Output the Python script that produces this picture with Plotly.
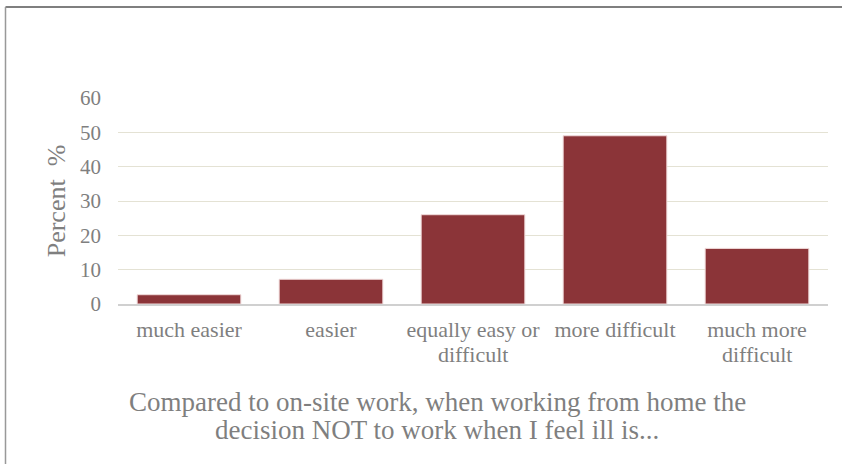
import plotly.graph_objects as go

categories = ["much easier", "easier", "equally easy or|difficult", "more difficult", "much more|difficult"]
values = [2.7, 7.2, 26.0, 49.0, 16.2]
y_ticks = [0, 10, 20, 30, 40, 50, 60]

W, H = 842, 464
L, R, T, B = 118, 14, 98, 160
pw, ph = W - L - R, H - T - B

def px(x):
    return (x - L) / pw

def py(y):
    return (H - B - y) / ph

font_family = "Liberation Serif"
gray = "#7f7f7f"

first_lines = [c.split("|")[0] for c in categories]
second_lines = [c.split("|")[1] if "|" in c else "" for c in categories]

fig = go.Figure(go.Bar(
    x=categories, y=values,
    marker=dict(color="#8b3438", line=dict(color="#f0dada", width=1)),
))

annotations = []
for cat, sec in zip(categories, second_lines):
    if sec:
        annotations.append(dict(
            text=sec, x=cat, xref="x", y=py(354), yref="paper", showarrow=False,
            xanchor="center", yanchor="middle",
            font=dict(size=22, color=gray, family=font_family),
        ))

title_lines = ["Compared to on-site work, when working from home the",
               "decision NOT to work when I feel ill is..."]
for line, ypix in zip(title_lines, [402, 430]):
    annotations.append(dict(
        text=line, x=px(437), y=py(ypix), xref="paper", yref="paper", showarrow=False,
        xanchor="center", yanchor="middle",
        font=dict(size=27, color=gray, family=font_family),
    ))

fig.update_layout(
    width=W, height=H,
    margin=dict(l=L, r=R, t=T, b=B),
    paper_bgcolor="white", plot_bgcolor="white",
    showlegend=False, bargap=0.27,
    font=dict(family=font_family, color=gray),
    xaxis=dict(
        showgrid=False, showline=True, linecolor="#d0d0d0", linewidth=2,
        tickvals=categories, ticktext=first_lines,
        tickfont=dict(size=22, color=gray, family=font_family), ticks="", ticklabelstandoff=5,
    ),
    yaxis=dict(
        range=[0, 60], tickvals=y_ticks, showgrid=True, gridcolor="#e4e2d4", gridwidth=1,
        zeroline=False, showline=False, tickfont=dict(size=21, color=gray, family=font_family),
        ticklabelstandoff=16,
        title=dict(text="Percent  %", font=dict(size=26, color=gray, family=font_family), standoff=6),
    ),
    annotations=annotations,
    shapes=[
        dict(type="line", xref="paper", yref="paper", x0=px(5.5), x1=px(842), y0=py(7), y1=py(7),
             line=dict(color="#555555", width=1.5)),
        dict(type="line", xref="paper", yref="paper", x0=px(5.5), x1=px(5.5), y0=py(7), y1=py(464),
             line=dict(color="#999999", width=1.5)),
    ],
)

fig.write_html("out.html")
